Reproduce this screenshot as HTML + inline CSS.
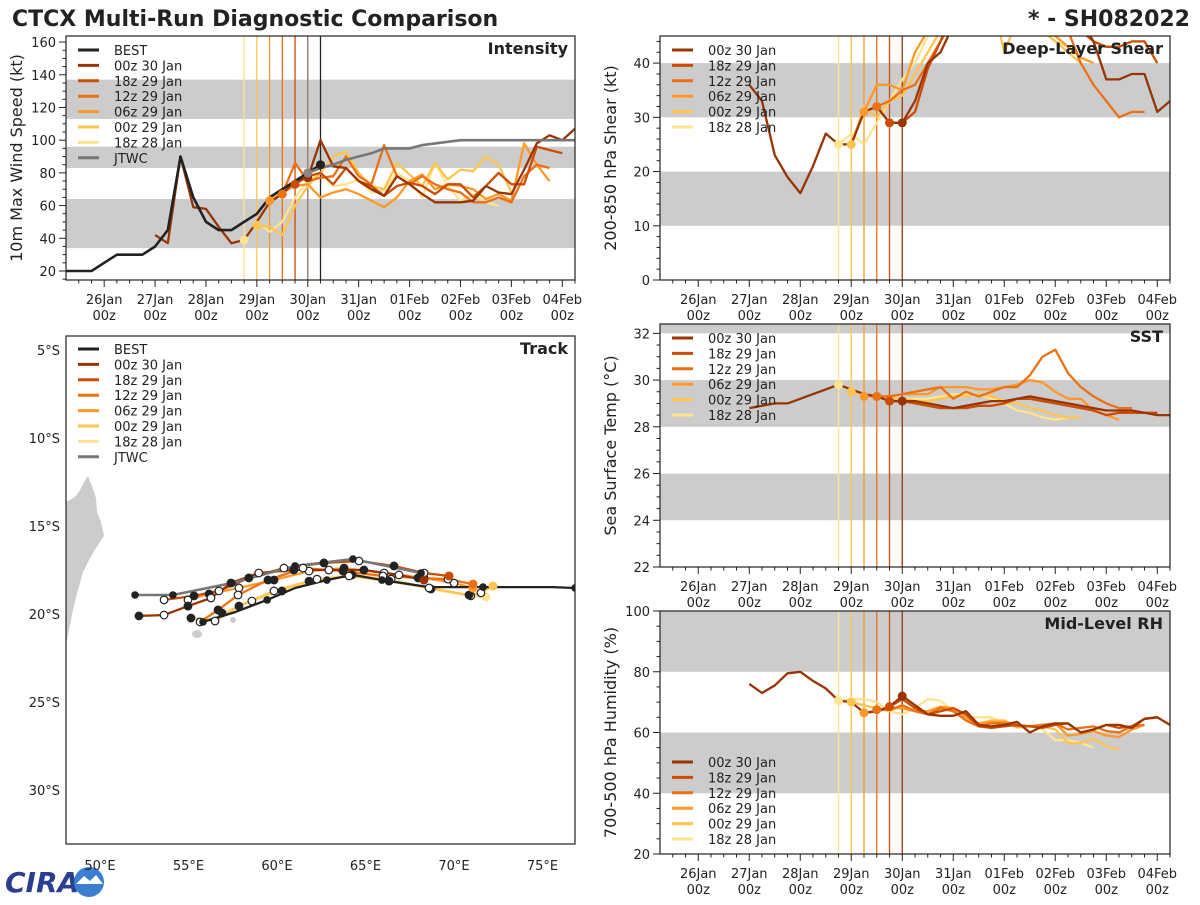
<!DOCTYPE html>
<html><head><meta charset="utf-8"><style>
html,body{margin:0;padding:0;background:#fff;}
svg text{font-family:"DejaVu Sans","Liberation Sans",sans-serif;}
</style></head><body>
<svg id="root" width="1200" height="900" viewBox="0 0 1200 900" xmlns="http://www.w3.org/2000/svg">
<rect x="0" y="0" width="1200" height="900" fill="#fff"/>
<text x="12" y="26" font-size="22" font-weight="bold" fill="#222">CTCX Multi-Run Diagnostic Comparison</text>
<text x="1190" y="26" font-size="22" font-weight="bold" fill="#222" text-anchor="end">* - SH082022</text>
<g>
<text x="5" y="892" font-size="28" font-weight="bold" fill="#2a3f8f" font-style="italic">CIRA</text>
<circle cx="89" cy="882" r="15" fill="#3a7fd0"/>
<path d="M76 884 L84 876 L90 881 L96 875 L103 884 Z" fill="#fff"/>
</g>
</svg>
<script>
// ---------- data ----------
const runNames = ['00z 30 Jan','18z 29 Jan','12z 29 Jan','06z 29 Jan','00z 29 Jan','18z 28 Jan'];
const runColors = ['#993404','#cc4c02','#ec7014','#fe9929','#fec44f','#fee391'];
const runInitHours = [96,90,84,78,72,66]; // hours from 26Jan 00z
const dayLabels = ['26Jan','27Jan','28Jan','29Jan','30Jan','31Jan','01Feb','02Feb','03Feb','04Feb'];

// Intensity (kt), 6-hourly
const bestStart = -18;
const bestWind = [20,20,20,25,30,30,30,35,45,90,65,50,45,45,50,55,65,70,75,80,85];
const jtwcStart = 96;
const jtwcWind = [80,83,85,88,90,92,95,95,95,97,98,99,100,100,100,100,100,100,100,100,100,100,100,100,100];
const intStarts = [24,90,84,78,72,66];
const int00z30 = [42,37,90,59,58,47,37,39,50,62,67,75,77,100,84,83,75,70,66,78,73,67,62,62,62,63,72,68,67,82,98,103,100,107];
const int18z29 = [73,78,80,73,83,75,72,66,72,74,72,67,73,73,65,72,80,73,73,96,94,92];
const int12z29 = [67,86,75,77,78,90,78,73,97,78,73,78,73,70,68,62,62,65,62,78,85,83];
const int06z29 = [63,68,72,73,65,68,70,67,63,59,65,75,79,70,73,72,70,64,67,63,98,85,75];
const int00z29 = [48,47,42,60,72,80,90,93,80,72,70,86,79,72,86,76,82,81,90,85,68];
const int18z28 = [39,50,44,50,65,75,80,72,73,76,68,69,80,75,65,86,72,63,67,62,60];

// Deep-layer shear (kt)
const shrStarts = [24,90,84,78,72,66];
const shr00z30 = [36,33,23,19,16,21,27,25,25,31,32,29,29,33,40,42,47,52,52,52,52,52,52,52,52,52,48,44,37,37,38,38,31,33];
const shr18z29 = [29,29,31,39,44,50,52,52,52,52,52,52,52,50,48,46,44,43,43,44,44,40];
const shr12z29 = [32,33,35,36,40,44,48,52,52,52,52,52,52,52,50,46,40,36,33,30,31,31];
const shr06z29 = [31,36,36,35,42,46,50,52,52,52,52,52,52,50,47,45,43,41,40];
const shr00z29 = [25,32,30,33,34,38,42,46,50,52,52,52,42,48,50,46,44,42,40];
const shr18z28 = [25,27,25,29,33,37,40,45,48,50,52,52,52,52,52,50,46,44,43,41];

// SST (C)
const sstStarts = [24,90,84,78,72,66];
const sst00z30 = [28.8,28.9,29.0,29.0,29.2,29.4,29.6,29.8,29.6,29.4,29.3,29.1,29.1,29.1,29.0,28.9,28.8,28.9,29.0,29.1,29.1,29.2,29.3,29.2,29.1,29.0,28.9,28.8,28.7,28.7,28.7,28.6,28.5,28.5];
const sst18z29 = [29.1,29.1,29.0,28.9,28.8,28.8,28.8,28.9,28.9,29.0,29.2,29.2,29.1,29.0,28.9,28.8,28.7,28.5,28.6,28.6,28.6,28.6];
const sst12z29 = [29.3,29.3,29.4,29.5,29.6,29.7,29.2,29.5,29.3,29.5,29.7,29.7,30.2,31.0,31.3,30.3,29.7,29.3,29.0,28.8,28.8];
const sst06z29 = [29.3,29.3,29.3,29.4,29.4,29.4,29.7,29.7,29.7,29.6,29.6,29.7,29.8,30.0,29.9,29.5,29.2,29.2,28.7,28.5,28.3];
const sst00z29 = [29.5,29.4,29.3,29.2,29.2,29.1,29.1,29.2,29.3,29.3,29.4,29.3,29.1,29.0,28.8,28.7,28.5,28.4,28.4];
const sst18z28 = [29.8,29.6,29.4,29.3,29.2,29.2,29.2,29.2,29.3,29.4,29.4,29.4,29.2,29.0,28.7,28.6,28.4,28.3,28.4];

// Mid-level RH (%)
const rhStarts = [24,90,84,78,72,66];
const rh00z30 = [76,73,75.5,79.5,80,77,74.5,70.5,70,66.5,67,68.5,72,69,66,65.5,65.5,67,62.5,62,62.5,63.5,60,62,63,63,60,61,62.5,62.5,61.5,64.5,65,62.5,58];
const rh18z29 = [68.5,71,68,66,67,68,66,62,61.5,62,62.5,62,61.5,62.5,63,60,61,62.5,61.5,62,64.5,65];
const rh12z29 = [67.5,67.5,69,67,66,68,67,64,62,63,63,62,62,62.5,63,61,61.5,62,60.5,60,62,62.5];
const rh06z29 = [66.5,67,68,68,67,67,68.5,68,65,63,63.5,63.5,62.5,62,62.5,63,59,59.5,60.5,59,58.5,61,62.5];
const rh00z29 = [70,69,68,67,69,67,66,68,67,64,63,64,64,62,62,62,61,56.5,56.5,58,55.5,54.5];
const rh18z28 = [70.5,71,71,70,67,66,68,71,70.5,67,65,65,65,63,61.5,62,61,57.5,57.5,56.5,55];

// Track (deg E, deg S), time-ordered
const bestLon = [55.82,57.63,59.44,61.02,62.82,64.29,65.93,68.59,71.64,75.54,76.84];
const bestLat = [20.45,19.89,19.20,18.52,18.07,17.78,18.07,18.47,18.47,18.47,18.52];
const jtwcLon = [68.14,64.29,61.02,57.46,54.12,51.98];
const jtwcLat = [17.67,16.88,17.27,18.24,18.92,18.92];
const trk00z30Lon = [68.30,66.89,64.91,62.93,60.95,58.97,57.40,56.27,54.97,53.62,52.20];
const trk00z30Lat = [18.07,17.78,17.50,17.50,17.50,17.67,18.24,19.09,19.55,20.06,20.11];
const trk18z29Lon = [69.72,68.31,66.61,64.63,62.65,60.39,58.41,56.72,55.31,53.62];
const trk18z29Lat = [17.84,17.67,17.27,16.99,17.10,17.39,17.95,18.69,18.97,19.20];
const trk12z29Lon = [71.07,69.66,67.97,65.99,63.73,61.47,59.49,57.80,56.67,55.65];
const trk12z29Lat = [18.30,18.02,17.95,17.84,17.56,17.39,18.07,18.92,19.77,20.45];
const trk06z29Lon = [71.07,70.00,68.30,66.05,63.79,61.81,59.83,57.85,56.16,54.97];
const trk06z29Lat = [18.52,18.24,17.95,17.67,17.39,17.56,18.07,18.52,18.86,19.20];
const trk00z29Lon = [72.20,71.52,70.85,68.59,66.33,64.07,61.81,59.83,57.85,56.50,55.14];
const trk00z29Lat = [18.41,18.80,18.92,18.52,18.13,17.84,18.13,18.69,19.55,20.40,20.23];
const trk18z28Lon = [71.80,70.95,68.70,66.45,64.24,62.26,60.28,58.58,56.89];
const trk18z28Lat = [19.03,18.97,18.58,18.02,17.78,18.02,18.69,19.26,19.94];

// ---------- drawing ----------
const NS = 'http://www.w3.org/2000/svg';
const root = document.getElementById('root');
function el(tag, attrs, parent) {
  const e = document.createElementNS(NS, tag);
  for (const k in attrs) e.setAttribute(k, attrs[k]);
  (parent || root).appendChild(e);
  return e;
}
function txt(s, attrs, parent) { const t = el('text', attrs, parent); t.textContent = s; return t; }
let clipId = 0;

function tsPanel(cfg) {
  const g = el('g', {});
  
  
  const {x0, x1, y0, y1, ymin, ymax} = cfg;
  const X = h => x0 + (h - (-18)) / 240 * (x1 - x0);
  const Y = v => y1 - (v - ymin) / (ymax - ymin) * (y1 - y0);
  const cid = 'c' + (clipId++);
  const cp = el('clipPath', {id: cid}, g);
  el('rect', {x: x0, y: y0, width: x1 - x0, height: y1 - y0}, cp);
  const inner = el('g', {'clip-path': 'url(#' + cid + ')'}, g);
  cfg.bands.forEach(b => {
    const r = el('rect', {x: x0, y: Y(Math.min(b[1], ymax)), width: x1 - x0, height: Y(b[0]) - Y(Math.min(b[1], ymax)), fill: '#cccccc'}, inner);
    
    
  });
  for (let i = runInitHours.length - 1; i >= 0; i--) {
    const l = el('line', {x1: X(runInitHours[i]), x2: X(runInitHours[i]), y1: y0, y2: y1, stroke: runColors[i], 'stroke-width': 1.3}, inner);
    
    
  }
  if (cfg.extraVLines) cfg.extraVLines.forEach(v => {
    const l = el('line', {x1: X(v[0]), x2: X(v[0]), y1: y0, y2: y1, stroke: v[1], 'stroke-width': 1.3}, inner);
    
    
  });
  const drawSeries = (start, vals, color, w, nm) => {
    const pts = vals.map((v, i) => X(start + 6 * i).toFixed(1) + ',' + Y(v).toFixed(1)).join(' ');
    const p = el('polyline', {points: pts, fill: 'none', stroke: color, 'stroke-width': w, 'stroke-linejoin': 'round'}, inner);
    
    
  };
  for (let i = cfg.series.length - 1; i >= 0; i--) drawSeries(cfg.starts[i], cfg.series[i], runColors[i], 2.3, 'series-' + runNames[i].replace(/ /g, '-').toLowerCase());
  if (cfg.extra) cfg.extra.forEach(s => drawSeries(s[0], s[1], s[2], 2.6, s[3]));
  for (let i = cfg.series.length - 1; i >= 0; i--) {
    const idx = (runInitHours[i] - cfg.starts[i]) / 6;
    const v = cfg.series[i][idx];
    const c = el('circle', {cx: X(runInitHours[i]), cy: Y(v), r: 4.5, fill: runColors[i]}, inner);
    
    
  }
  if (cfg.extraDots) cfg.extraDots.forEach(d => {
    const c = el('circle', {cx: X(d[0]), cy: Y(d[1]), r: 4.5, fill: d[2]}, inner);
    
    
  });
  const fr = el('rect', {x: x0, y: y0, width: x1 - x0, height: y1 - y0, fill: 'none', stroke: '#222', 'stroke-width': 1.2}, g);
  
  
  for (let h = -12; h <= 222; h += 6) {
    const major = h % 24 === 0;
    el('line', {x1: X(h), x2: X(h), y1: y1, y2: y1 + (major ? 7 : 3.5), stroke: '#222', 'stroke-width': 1}, g);
  }
  dayLabels.forEach((d, i) => {
    const t = txt(d, {x: X(24 * i), y: y1 + 24, 'font-size': 13, 'text-anchor': 'middle', fill: '#222'}, g);
    
    
    const t2 = txt('00z', {x: X(24 * i), y: y1 + 40, 'font-size': 13, 'text-anchor': 'middle', fill: '#222'}, g);
    
    
  });
  const firstTick = Math.ceil(ymin / cfg.yminor - 1e-9) * cfg.yminor;
  for (let v = firstTick; v <= ymax + 1e-6; v += cfg.yminor) {
    const vv = Math.round(v * 100) / 100;
    const major = Math.abs(vv / cfg.ymajor - Math.round(vv / cfg.ymajor)) < 1e-6;
    el('line', {x1: x0, x2: x0 - (major ? 7 : 3.5), y1: Y(vv), y2: Y(vv), stroke: '#222', 'stroke-width': 1}, g);
    if (major && vv >= cfg.ylabMin) {
      const t = txt(String(vv), {x: x0 - 10, y: Y(vv) + 5, 'font-size': 13, 'text-anchor': 'end', fill: '#222'}, g);
      
      
    }
  }
  const yl = txt(cfg.ylabel, {x: 0, y: 0, 'font-size': 16, 'text-anchor': 'middle', fill: '#222', transform: `translate(${x0 - 44},${(y0 + y1) / 2}) rotate(-90)`}, g);
  
  
  const tt = txt(cfg.title, {x: x1 - 7, y: y0 + 18, 'font-size': 16, 'font-weight': 'bold', 'text-anchor': 'end', fill: '#222'}, g);
  
  
  const lg = el('g', {}, g);
  
  
  cfg.legend.forEach((e, i) => {
    const ly = cfg.legY + i * 15.4;
    el('line', {x1: x0 + 12, x2: x0 + 33, y1: ly, y2: ly, stroke: e[1], 'stroke-width': 3}, lg);
    const t = txt(e[0], {x: x0 + 48, y: ly + 5, 'font-size': 13, fill: '#222'}, lg);
    
    
  });
}

const runLegend = runNames.map((n, i) => [n, runColors[i]]);

tsPanel({name: 'intensity-panel', x0: 66, x1: 575, y0: 36, y1: 280, ymin: 14.5, ymax: 163.7, ymajor: 20, yminor: 5, ylabMin: 20,
  bands: [[34, 64], [83, 96], [113, 137]], starts: intStarts,
  series: [int00z30, int18z29, int12z29, int06z29, int00z29, int18z28],
  extra: [[bestStart, bestWind, '#222', 2.6, 'best-track-intensity'], [jtwcStart, jtwcWind, '#777', 2.6, 'jtwc-intensity']],
  extraVLines: [[96, '#9a8a80'], [102, '#222']],
  extraDots: [[96, jtwcWind[0], '#888'], [102, bestWind[bestWind.length - 1], '#222']],
  ylabel: '10m Max Wind Speed (kt)', title: 'Intensity', legY: 50,
  legend: [['BEST', '#222']].concat(runLegend).concat([['JTWC', '#777']])});

tsPanel({name: 'shear-panel', x0: 660, x1: 1170, y0: 36, y1: 280, ymin: 0, ymax: 45, ymajor: 10, yminor: 2, ylabMin: 0,
  bands: [[10, 20], [30, 40]], starts: shrStarts,
  series: [shr00z30, shr18z29, shr12z29, shr06z29, shr00z29, shr18z28],
  ylabel: '200-850 hPa Shear (kt)', title: 'Deep-Layer Shear', legY: 50, legend: runLegend});

tsPanel({name: 'sst-panel', x0: 660, x1: 1170, y0: 324, y1: 567, ymin: 22, ymax: 32.4, ymajor: 2, yminor: 0.5, ylabMin: 22,
  bands: [[24, 26], [28, 30], [32, 33]], starts: sstStarts,
  series: [sst00z30, sst18z29, sst12z29, sst06z29, sst00z29, sst18z28],
  ylabel: 'Sea Surface Temp (\u00B0C)', title: 'SST', legY: 338, legend: runLegend});

tsPanel({name: 'rh-panel', x0: 660, x1: 1170, y0: 611, y1: 854, ymin: 20, ymax: 100, ymajor: 20, yminor: 5, ylabMin: 20,
  bands: [[40, 60], [80, 100]], starts: rhStarts,
  series: [rh00z30, rh18z29, rh12z29, rh06z29, rh00z29, rh18z28],
  ylabel: '700-500 hPa Humidity (%)', title: 'Mid-Level RH', legY: 762, legend: runLegend});

// ---------- track panel ----------
(function () {
  const x0 = 66, x1 = 575, y0 = 336, y1 = 844;
  const LX = lon => 100 + (lon - 50) * 17.7;
  const LY = lat => 350 + (lat - 5) * 17.6;
  const g = el('g', {});
  
  
  const cp = el('clipPath', {id: 'trkclip'}, g);
  el('rect', {x: x0, y: y0, width: x1 - x0, height: y1 - y0}, cp);
  const inner = el('g', {'clip-path': 'url(#trkclip)'}, g);
  const land = el('path', {d: 'M60 660 L66 645 L70 625 L74 605 L78 590 L83 572 L89 560 L96 548 L104 536 L101 522 L97 512 L96 498 L92 486 L88 476 L84 482 L80 490 L76 496 L70 500 L66 502 L60 505 Z', fill: '#cccccc'}, inner);
  
  
  el('ellipse', {cx: 197, cy: 634, rx: 5, ry: 4, fill: '#cccccc'}, inner);
  el('ellipse', {cx: 233, cy: 620, rx: 3, ry: 3, fill: '#cccccc'}, inner);
  const tracks = [[trk00z30Lon, trk00z30Lat], [trk18z29Lon, trk18z29Lat], [trk12z29Lon, trk12z29Lat], [trk06z29Lon, trk06z29Lat], [trk00z29Lon, trk00z29Lat], [trk18z28Lon, trk18z28Lat]];
  const drawTrack = (lons, lats, color, w, nm) => {
    const pts = lons.map((lo, i) => LX(lo).toFixed(1) + ',' + LY(lats[i]).toFixed(1)).join(' ');
    const p = el('polyline', {points: pts, fill: 'none', stroke: color, 'stroke-width': w, 'stroke-linejoin': 'round'}, inner);
    
    
  };
  for (let i = tracks.length - 1; i >= 0; i--) drawTrack(tracks[i][0], tracks[i][1], runColors[i], 2.3, 'track-' + runNames[i].replace(/ /g, '-').toLowerCase());
  drawTrack(jtwcLon, jtwcLat, '#777', 2.6, 'track-jtwc');
  drawTrack(bestLon, bestLat, '#222', 2.3, 'track-best');
  for (let i = tracks.length - 1; i >= 0; i--) {
    tracks[i][0].forEach((lo, j) => {
      if (j === 0) {
        const c = el('circle', {cx: LX(lo), cy: LY(tracks[i][1][j]), r: 4.5, fill: runColors[i]}, inner);
        
        
        return;
      }
      const filled = j % 2 === 0;
      const c = el('circle', {cx: LX(lo), cy: LY(tracks[i][1][j]), r: 3.8, fill: filled ? '#222' : '#fff', stroke: '#222', 'stroke-width': 1.2}, inner);
      
      
    });
  }
  jtwcLon.forEach((lo, j) => {
    const c = el('circle', {cx: LX(lo), cy: LY(jtwcLat[j]), r: 3.8, fill: '#222'}, inner);
    
    
  });
  bestLon.forEach((lo, j) => {
    if (j % 2) return;
    const c = el('circle', {cx: LX(lo), cy: LY(bestLat[j]), r: 3.8, fill: '#222'}, inner);
    
    
  });
  const fr = el('rect', {x: x0, y: y0, width: x1 - x0, height: y1 - y0, fill: 'none', stroke: '#222', 'stroke-width': 1.2}, g);
  
  
  [50, 55, 60, 65, 70, 75].forEach(lo => {
    const t = txt(lo + '\u00B0E', {x: LX(lo), y: 870, 'font-size': 13, 'text-anchor': 'middle', fill: '#222'}, g);
    
    
  });
  [5, 10, 15, 20, 25, 30].forEach(la => {
    const t = txt(la + '\u00B0S', {x: 60, y: LY(la) + 5, 'font-size': 13, 'text-anchor': 'end', fill: '#222'}, g);
    
    
  });
  const tt = txt('Track', {x: x1 - 7, y: y0 + 18, 'font-size': 16, 'font-weight': 'bold', 'text-anchor': 'end', fill: '#222'}, g);
  
  
  const leg = [['BEST', '#222']].concat(runLegend).concat([['JTWC', '#777']]);
  const lg = el('g', {}, g);
  
  
  leg.forEach((e, i) => {
    const ly = 349 + i * 15.4;
    el('line', {x1: x0 + 12, x2: x0 + 33, y1: ly, y2: ly, stroke: e[1], 'stroke-width': 3}, lg);
    const t = txt(e[0], {x: x0 + 48, y: ly + 5, 'font-size': 13, fill: '#222'}, lg);
    
    
  });
})();
</script>
</body></html>
